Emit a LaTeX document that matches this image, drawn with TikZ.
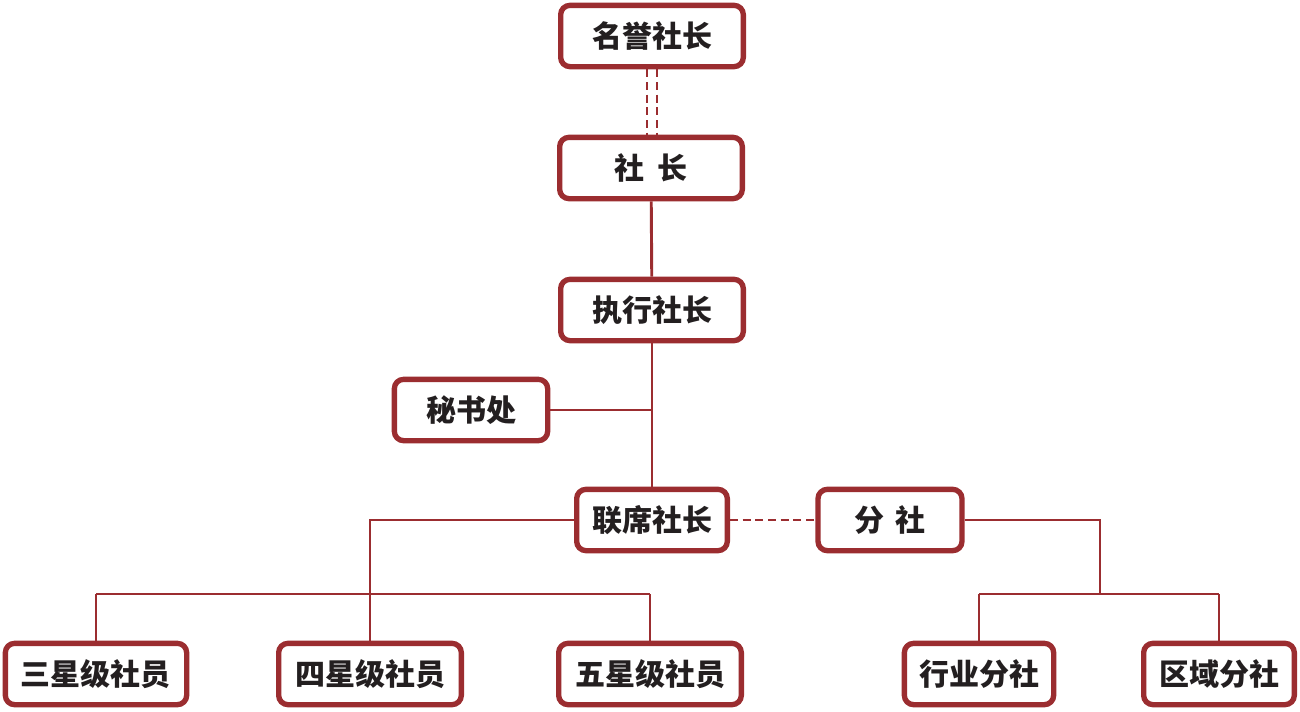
\documentclass[tikz,border=0pt]{standalone}
\usepackage{fontspec}
\newfontfamily\cjk{Noto Sans CJK SC}
\definecolor{deepred}{RGB}{155,45,48}
\definecolor{inkgray}{RGB}{35,31,32}
\tikzset{
	orgbox/.style={draw=deepred, line width=4pt, rounded corners=7pt, fill=white,
		minimum height=46pt, inner sep=0pt, text=inkgray, font=\cjk\bfseries\fontsize{22.5}{26}\selectfont},
	link/.style={draw=deepred, line width=2.2pt},
	dashlink/.style={link, dash pattern={on 6pt off 3.5pt}}
}
\begin{document}
\begin{tikzpicture}[x=0.75pt,y=0.75pt,yscale=-1,xscale=1]
	\useasboundingbox (0,0) rectangle (1300,711);
	
	% Junction points
	\coordinate (hon1) at (647,69);
	\coordinate (hon2) at (657,69);
	\coordinate (pres1) at (647,135);
	\coordinate (pres2) at (657,135);
	\coordinate (secj) at (652,410);
	\coordinate (lbend) at (370,520);
	\coordinate (lleft) at (96,594);
	\coordinate (lright) at (650,594);
	\coordinate (rbend) at (1100,520);
	\coordinate (rmid) at (1100,594);
	\coordinate (rleft) at (979,594);
	\coordinate (rright) at (1219,594);
	
	% Boxes
	\node [orgbox, minimum width=137pt] (honor) at (652,36) {名誉社长};
	\node [orgbox, minimum width=137pt] (pres) at (651,168) {社\hspace{0.45em}长};
	\node [orgbox, minimum width=137pt] (exec) at (652,310) {执行社长};
	\node [orgbox, minimum width=115pt] (secr) at (471,410) {秘书处};
	\node [orgbox, minimum width=113pt] (joint) at (652,520) {联席社长};
	\node [orgbox, minimum width=108pt] (branch) at (890,520) {分\hspace{0.35em}社};
	\node [orgbox, minimum width=136pt] (three) at (96,674) {三星级社员};
	\node [orgbox, minimum width=137pt] (four) at (370,674) {四星级社员};
	\node [orgbox, minimum width=137pt] (five) at (650,674) {五星级社员};
	\node [orgbox, minimum width=112pt] (trade) at (979,674) {行业分社};
	\node [orgbox, minimum width=113pt] (region) at (1219,674) {区域分社};
	
	% Lines
	\draw [dashlink] (hon1 |- honor.south) -- (pres1 |- pres.north);
	\draw [dashlink] (hon2 |- honor.south) -- (pres2 |- pres.north);
	\draw [link] (pres) -- (exec);
	\draw [link] (exec) -- (joint);
	\draw [link] (secr) -- (secj);
	\draw [dashlink] (joint) -- (branch);
	\draw [link] (joint) -- (lbend) -- (four);
	\draw [link] (lleft) -- (lright);
	\draw [link] (lleft) -- (three);
	\draw [link] (lright) -- (five);
	\draw [link] (branch) -- (rbend) -- (rmid);
	\draw [link] (rleft) -- (rright);
	\draw [link] (rleft) -- (trade);
	\draw [link] (rright) -- (region);
\end{tikzpicture}
\end{document}
